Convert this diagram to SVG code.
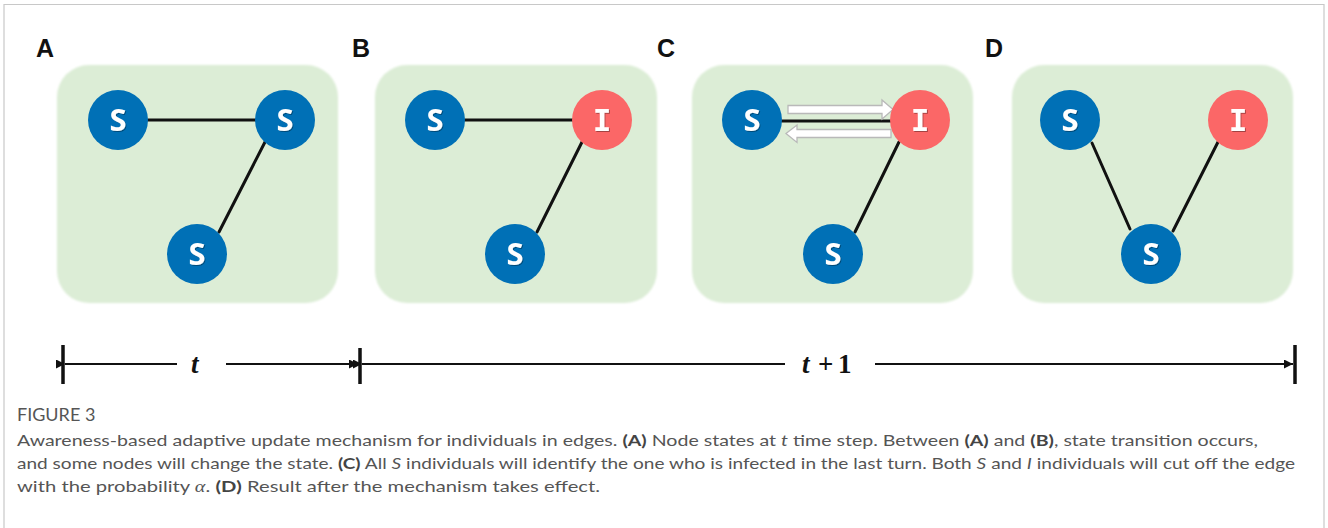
<svg xmlns="http://www.w3.org/2000/svg" width="1328" height="528" viewBox="0 0 1328 528">
  <defs>
    <style>
      .frame { fill: none; stroke: #c8c8c8; stroke-width: 1.2; }
      .panel { fill: #dcedd6; filter: url(#soft); }
      .label { font-family: "Liberation Sans", Arial, sans-serif; font-weight: bold; font-size: 25px; fill: #111; }
      .s { fill: #0070b6; }
      .i { fill: #fb6767; }
      .glyph { font-family: "Open Sans", "Liberation Sans", sans-serif; font-weight: bold; font-size: 31px; fill: #fff; text-anchor: middle; filter: url(#shadow); }
      .glyphI { font-family: "DejaVu Sans Mono", "Liberation Mono", monospace; font-weight: bold; font-size: 31px; fill: #fff; text-anchor: middle; filter: url(#shadow); }
      .edge { stroke: #111; stroke-width: 3; stroke-linecap: round; fill: none; }
      .hollow { fill: #fff; stroke: #b9b9b9; stroke-width: 1.3; }
      .axis { stroke: #111; stroke-width: 2; fill: none; }
      .tick { stroke: #111; stroke-width: 3.5; }
      .tlabel { font-family: "Liberation Serif", "Times New Roman", serif; font-style: italic; font-weight: bold; font-size: 27px; fill: #111; }
      .tnum { font-family: "Liberation Serif", "Times New Roman", serif; font-weight: bold; font-size: 27px; fill: #111; }
      .cap { font-family: "Lato", "Open Sans", "Liberation Sans", sans-serif; font-size: 16px; fill: #555; }
      .fig { font-size: 18px; }
      .capb { font-weight: bold; fill: #444; }
      .capi { font-style: italic; }
    </style>
    <filter id="soft" x="-5%" y="-5%" width="110%" height="110%">
      <feGaussianBlur stdDeviation="1.2"/>
    </filter>
    <filter id="shadow" x="-20%" y="-20%" width="150%" height="150%">
      <feDropShadow dx="1" dy="1" stdDeviation="0.6" flood-color="#000" flood-opacity="0.35"/>
    </filter>
    <marker id="arrL" viewBox="0 0 10 10" refX="0" refY="5" markerWidth="5" markerHeight="4.5" orient="auto">
      <path d="M10,0 L0,5 L10,10 z" fill="#111"/>
    </marker>
    <marker id="arrR" viewBox="0 0 10 10" refX="10" refY="5" markerWidth="5" markerHeight="4.5" orient="auto">
      <path d="M0,0 L10,5 L0,10 z" fill="#111"/>
    </marker>
  </defs>

  <rect width="1328" height="528" fill="#fff"/>
  <!-- outer frame -->
  <path class="frame" d="M4,530 L4,4.5 L1324,4.5 L1324,530"/>

  <!-- panel backgrounds with their letters -->
  <g id="panel-A"><rect class="panel" x="57" y="65" width="281" height="238" rx="32"/><text class="label" x="36" y="57">A</text></g>
  <g id="panel-B"><rect class="panel" x="375" y="65" width="282" height="238" rx="32"/><text class="label" x="352" y="57">B</text></g>
  <g id="panel-C"><rect class="panel" x="692" y="65" width="281" height="238" rx="32"/><text class="label" x="657" y="57">C</text></g>
  <g id="panel-D"><rect class="panel" x="1012" y="65" width="281" height="238" rx="32"/><text class="label" x="985" y="57">D</text></g>

  <!-- connectors -->
  <g id="connectors">
    <line class="edge" x1="148" y1="120" x2="256" y2="120"/>
    <line class="edge" x1="265" y1="142" x2="219" y2="232"/>
    <line class="edge" x1="465" y1="120" x2="573" y2="120"/>
    <line class="edge" x1="582" y1="142" x2="537" y2="232"/>
    <line class="edge" x1="782" y1="121" x2="891" y2="121"/>
    <line class="edge" x1="899" y1="142" x2="855" y2="232"/>
    <line class="edge" x1="1092" y1="143" x2="1130" y2="229"/>
    <line class="edge" x1="1218" y1="142" x2="1173" y2="231"/>
    <!-- hollow direction arrows -->
    <path class="hollow" d="M788,105.5 L882,105.5 L882,100 L893,109.5 L882,119 L882,113.5 L788,113.5 z"/>
    <path class="hollow" d="M891,129.5 L797,129.5 L797,125 L786,133.5 L797,142.5 L797,137.5 L891,137.5 z"/>
  </g>

  <!-- nodes -->
  <g id="node-A1"><circle class="s" cx="118" cy="120" r="30"/><text class="glyph" x="118" y="131">S</text></g>
  <g id="node-A2"><circle class="s" cx="285" cy="120" r="30"/><text class="glyph" x="285" y="131">S</text></g>
  <g id="node-A3"><circle class="s" cx="197" cy="254" r="30"/><text class="glyph" x="197" y="265">S</text></g>

  <g id="node-B1"><circle class="s" cx="435" cy="120" r="30"/><text class="glyph" x="435" y="131">S</text></g>
  <g id="node-B2"><circle class="i" cx="602" cy="120" r="30"/><text class="glyphI" x="602" y="131">I</text></g>
  <g id="node-B3"><circle class="s" cx="515" cy="254" r="30"/><text class="glyph" x="515" y="265">S</text></g>

  <g id="node-C1"><circle class="s" cx="752" cy="120" r="30"/><text class="glyph" x="752" y="131">S</text></g>
  <g id="node-C2"><circle class="i" cx="920" cy="120" r="30"/><text class="glyphI" x="920" y="131">I</text></g>
  <g id="node-C3"><circle class="s" cx="833" cy="254" r="30"/><text class="glyph" x="833" y="265">S</text></g>

  <g id="node-D1"><circle class="s" cx="1070" cy="120" r="30"/><text class="glyph" x="1070" y="131">S</text></g>
  <g id="node-D2"><circle class="i" cx="1238" cy="120" r="30"/><text class="glyphI" x="1238" y="131">I</text></g>
  <g id="node-D3"><circle class="s" cx="1151" cy="254" r="30"/><text class="glyph" x="1151" y="265">S</text></g>

  <!-- time axis -->
  <g id="timeline">
    <line class="tick" x1="63" y1="345" x2="63" y2="384"/>
    <line class="tick" x1="360" y1="348" x2="360" y2="384"/>
    <line class="tick" x1="1295" y1="345" x2="1295" y2="384"/>
    <line class="axis" x1="177" y1="364" x2="65" y2="364" marker-end="url(#arrL)"/>
    <line class="axis" x1="226" y1="364" x2="358" y2="364" marker-end="url(#arrR)"/>
    <line class="axis" x1="785" y1="364" x2="362" y2="364" marker-end="url(#arrL)"/>
    <line class="axis" x1="875" y1="364" x2="1293" y2="364" marker-end="url(#arrR)"/>
    <text class="tlabel" x="191" y="373">t</text>
    <text class="tlabel" x="802" y="373">t</text>
    <text class="tnum" x="818" y="373">+</text>
    <text class="tnum" x="838" y="373">1</text>
  </g>

  <!-- caption -->
  <g id="caption" class="cap">
    <text class="fig" x="17" y="421">FIGURE 3</text>
    <text x="17" y="446" textLength="1241" lengthAdjust="spacingAndGlyphs">Awareness-based adaptive update mechanism for individuals in edges. <tspan class="capb">(A)</tspan> Node states at <tspan class="capi">t</tspan> time step. Between <tspan class="capb">(A)</tspan> and <tspan class="capb">(B)</tspan>, state transition occurs,</text>
    <text x="17" y="469" textLength="1278" lengthAdjust="spacingAndGlyphs">and some nodes will change the state. <tspan class="capb">(C)</tspan> All <tspan class="capi">S</tspan> individuals will identify the one who is infected in the last turn. Both <tspan class="capi">S</tspan> and <tspan class="capi">I</tspan> individuals will cut off the edge</text>
    <text x="17" y="492" textLength="583" lengthAdjust="spacingAndGlyphs">with the probability <tspan class="capi" font-family="Liberation Serif, serif">α</tspan>. <tspan class="capb">(D)</tspan> Result after the mechanism takes effect.</text>
  </g>
</svg>
